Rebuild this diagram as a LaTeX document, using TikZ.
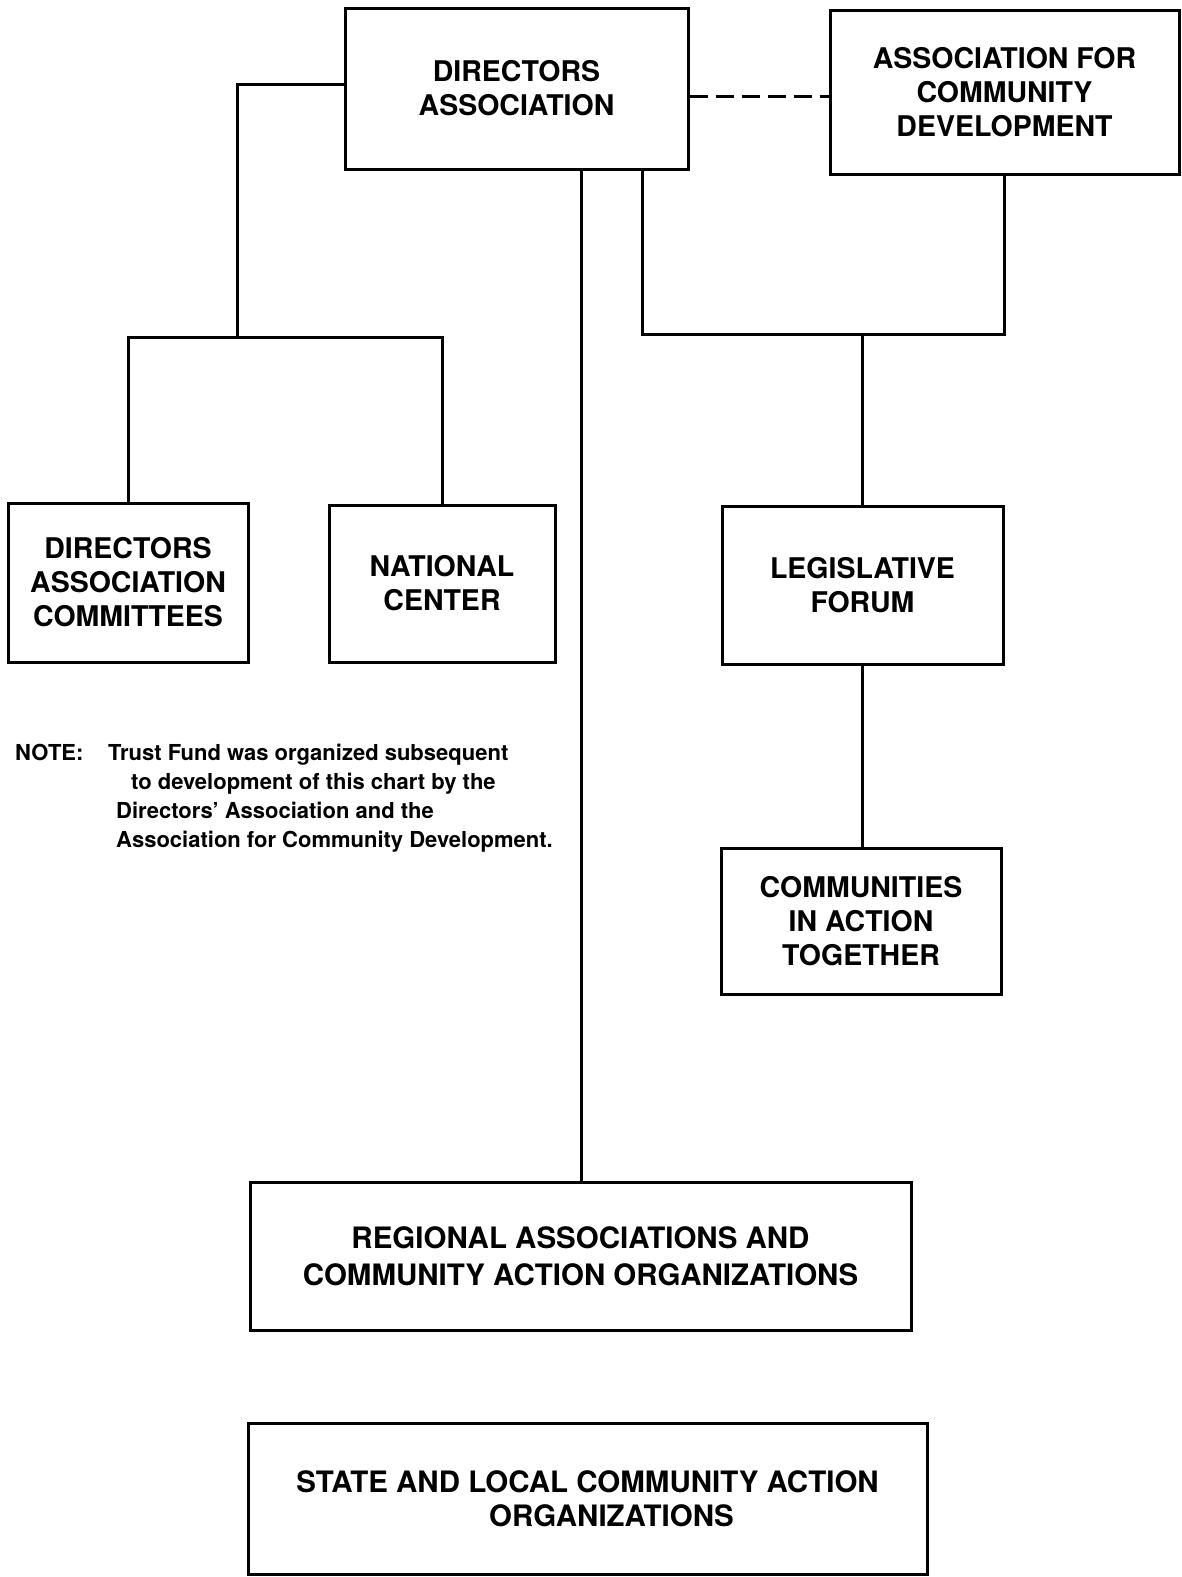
\documentclass[tikz,border=0pt]{standalone}
\usepackage{fontspec}
\setmainfont{TeX Gyre Heros}
\usetikzlibrary{calc}
\begin{document}
\begin{tikzpicture}[x=1pt,y=-1pt,
  orgbox/.style={draw,line width=3pt,rectangle,inner sep=0pt,align=center,
    font=\fontsize{28.5}{34}\selectfont\bfseries},
  bigtext/.style={font=\fontsize{29.5}{37}\selectfont\bfseries},
  link/.style={line width=3pt},
  notetext/.style={inner sep=0pt,align=left,anchor=north west,
    font=\fontsize{22}{29}\selectfont\bfseries}]
\useasboundingbox[fill=white] (0,0) rectangle (1182,1577);

\node[orgbox,minimum width=343pt,minimum height=161pt] (DA) at (516.5,88.5) {DIRECTORS\\ASSOCIATION};
\node[orgbox,minimum width=349pt,minimum height=164pt] (ACD) at (1004.5,92) {ASSOCIATION FOR\\COMMUNITY\\DEVELOPMENT};
\node[orgbox,minimum width=240pt,minimum height=159pt] (COM) at (128,582.5) {DIRECTORS\\ASSOCIATION\\COMMITTEES};
\node[orgbox,minimum width=226pt,minimum height=157pt] (NC) at (442,583.5) {NATIONAL\\CENTER};
\node[orgbox,minimum width=281pt,minimum height=158pt] (LF) at (862.5,585) {LEGISLATIVE\\FORUM};
\node[orgbox,minimum width=280pt,minimum height=146pt] (CIAT) at (861,921) {COMMUNITIES\\IN ACTION\\TOGETHER};
\node[orgbox,bigtext,minimum width=661pt,minimum height=148pt] (REG) at (580.5,1256) {REGIONAL ASSOCIATIONS AND\\COMMUNITY ACTION ORGANIZATIONS};
\node[orgbox,bigtext,font=\fontsize{29.5}{34}\selectfont\bfseries,minimum width=679pt,minimum height=151pt] (SLC) at (587.5,1498.5) {STATE AND LOCAL COMMUNITY ACTION\\\hspace*{48pt}ORGANIZATIONS};

\node[notetext] (note) at (15,744) {\makebox[93pt][l]{NOTE:}Trust Fund was organized subsequent\\
\hspace*{116pt}to development of this chart by the\\
\hspace*{101pt}Directors' Association and the\\
\hspace*{101pt}Association for Community Development.};

\coordinate (jL) at (237,337);
\coordinate (jR) at (862.5,334);
\coordinate (daW) at ($(DA.west)+(0,-4.5)$);
\coordinate (daS1) at ($(DA.south)+(64.5,0)$);
\coordinate (daS2) at ($(DA.south)+(125.5,0)$);
\coordinate (daE) at ($(DA.east)+(0,7.5)$);

\draw[link] (daW) -| (jL);
\draw[link] (COM.north) |- (jL) -| (NC.north);
\draw[link] (daS2) |- (jR) -| (ACD.south);
\draw[link] (jR) -- (LF.north);
\draw[link] (LF.south) -- (LF.south |- CIAT.north);
\draw[link] (daS1) -- (daS1 |- REG.north);
\draw[link,dash pattern=on 18pt off 8pt] (daE) -- (daE -| ACD.west);
\end{tikzpicture}
\end{document}
